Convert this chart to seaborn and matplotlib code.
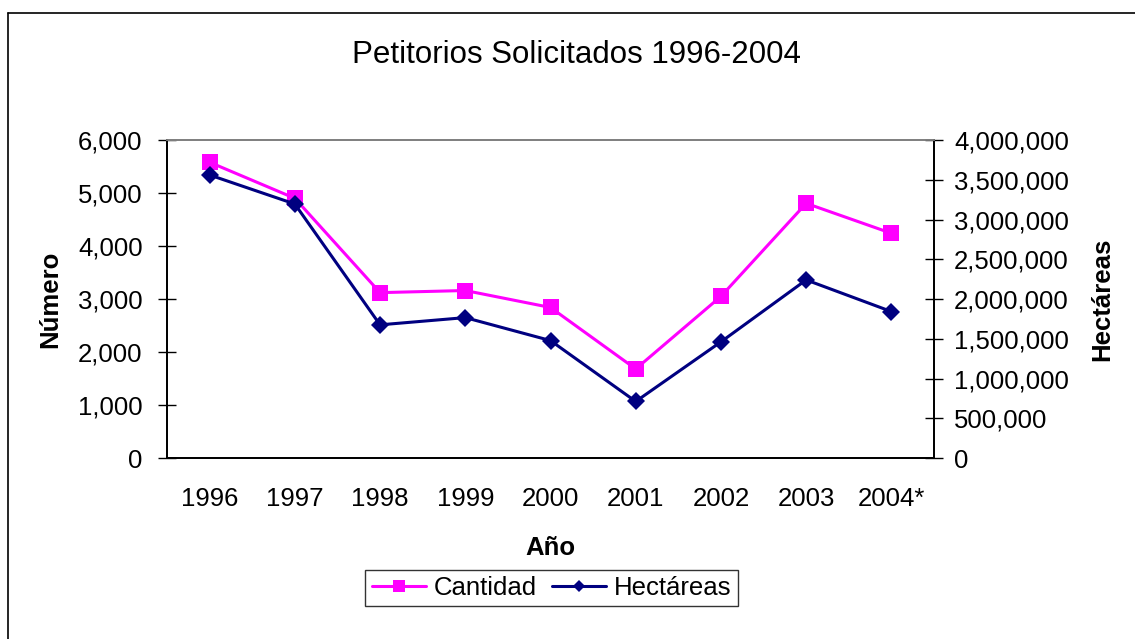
import pandas as pd
import matplotlib.pyplot as plt
import matplotlib.ticker as mticker
from matplotlib.lines import Line2D
import seaborn as sns

# Data
years = ["1996", "1997", "1998", "1999", "2000", "2001", "2002", "2003", "2004*"]
cantidad = [5580, 4900, 3120, 3160, 2840, 1680, 3050, 4805, 4240]
hectareas = [3560000, 3195000, 1675000, 1766000, 1477000, 711000, 1461000, 2240000, 1842000]

df = pd.DataFrame({"Año": years, "Cantidad": cantidad, "Hectáreas": hectareas})

sns.set_style("white")
plt.rcParams['font.family'] = ['Liberation Sans', 'DejaVu Sans']
plt.rcParams['text.color'] = 'black'
plt.rcParams['axes.labelcolor'] = 'black'
plt.rcParams['xtick.color'] = 'black'
plt.rcParams['ytick.color'] = 'black'

fig = plt.figure(figsize=(11.35, 6.39), dpi=100)
ax = fig.add_axes([167/1135, 1 - 458/639, 767/1135, 318/639])
ax2 = ax.twinx()

sns.lineplot(data=df, x="Año", y="Cantidad", ax=ax, sort=False, color="#FF00FF",
             marker="s", markersize=11.5, markeredgewidth=0, linewidth=2.2, label="Cantidad")
sns.lineplot(data=df, x="Año", y="Hectáreas", ax=ax2, sort=False, color="#000080",
             marker="D", markersize=9, markeredgewidth=0, linewidth=2.2, label="Hectáreas")
ax.get_legend().remove()
ax2.get_legend().remove()

ax.set_xlim(-0.5, len(years) - 0.5)
ax.set_ylim(0, 6000)
ax2.set_ylim(0, 4000000)
ax.set_yticks(range(0, 6001, 1000))
ax2.set_yticks(range(0, 4000001, 500000))
fmt = mticker.FuncFormatter(lambda v, p: f"{int(v):,}")
ax.yaxis.set_major_formatter(fmt)
ax2.yaxis.set_major_formatter(fmt)

# x ticks: labels at categories, marks at boundaries
ax.set_xticks(range(len(years)))
ax.set_xticklabels(years)
ax.set_xticks([i - 0.5 for i in range(len(years) + 1)], minor=True)
ax.tick_params(axis="x", which="major", length=0, pad=21, labelsize=18.5)
ax.tick_params(axis="x", which="minor", direction="inout", length=13, width=1, color="black")
ax.tick_params(axis="y", direction="inout", length=13, width=1, color="black", pad=11, labelsize=18.5)
ax2.tick_params(axis="y", direction="inout", length=13, width=1, color="black", pad=8, labelsize=18.5)

for a in (ax, ax2):
    for side in ("left", "right", "bottom"):
        a.spines[side].set_color("black")
        a.spines[side].set_linewidth(1.3)
    a.spines["top"].set_color("#808080")
    a.spines["top"].set_linewidth(1.3)

ax.set_xlabel("Año", fontsize=18.5, fontweight="bold")
ax.set_ylabel("Número", fontsize=18.5, fontweight="bold")
ax2.set_ylabel("Hectáreas", fontsize=18.5, fontweight="bold")
ax.xaxis.set_label_coords(0.5, -0.245)
ax.yaxis.set_label_coords(-0.137, 0.5)
ax2.yaxis.set_label_coords(1.2034, 0.5)

fig.text(576.5/1135, 1 - 55/639, "Petitorios Solicitados 1996-2004", fontsize=22.5,
         ha="center", va="center")

handles = ax.get_lines()[:1] + ax2.get_lines()[:1]
leg = fig.legend(handles, ["Cantidad", "Hectáreas"], loc="center", ncol=2,
                 bbox_to_anchor=(551.5/1135, 1 - 588/639), fontsize=18.5,
                 frameon=True, fancybox=False, edgecolor="black", markerscale=0.7,
                 handlelength=2.1, handletextpad=0.3, columnspacing=0.6,
                 borderpad=0.25, borderaxespad=0)
leg.get_frame().set_linewidth(1.0)

# outer chart frame (only left and top edges are visible)
x0, y0 = 8/1135, 1 - 13/639
fig.add_artist(Line2D([x0, x0], [0, y0], transform=fig.transFigure, color="black", linewidth=1.2))
fig.add_artist(Line2D([x0, 1], [y0, y0], transform=fig.transFigure, color="black", linewidth=1.2))

fig.savefig("out.png", dpi=100)
